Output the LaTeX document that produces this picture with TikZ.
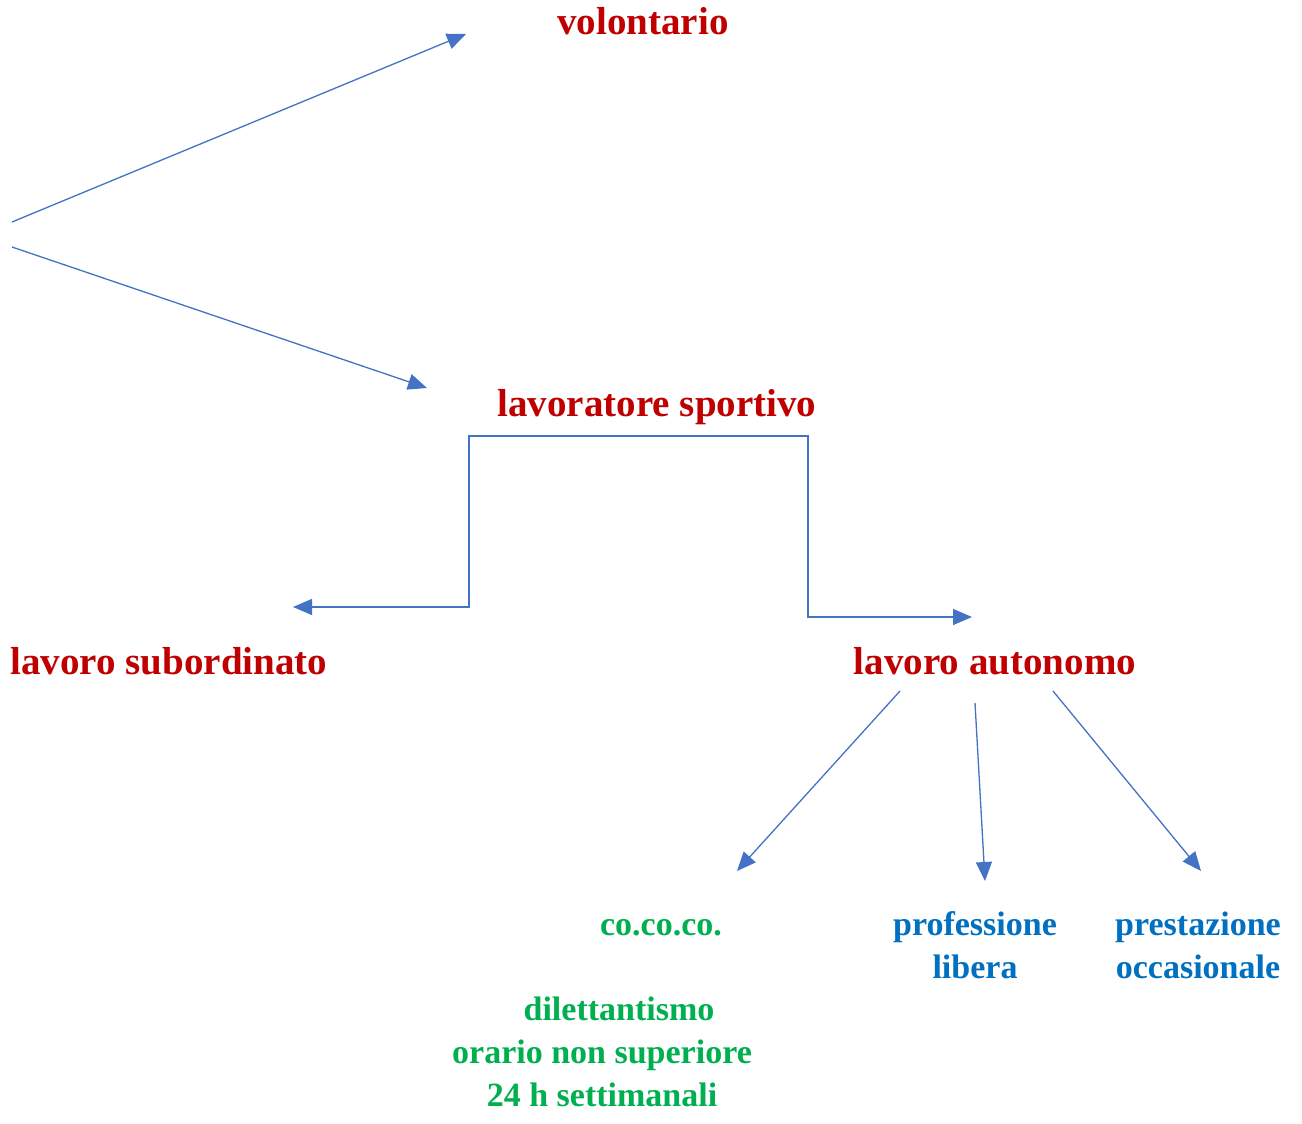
\documentclass[tikz,border=0pt]{standalone}
\usepackage{fontspec}
\setmainfont{Liberation Serif}
\usetikzlibrary{arrows.meta}
\definecolor{dred}{HTML}{C00000}
\definecolor{lblue}{HTML}{4472C4}
\definecolor{tgreen}{HTML}{00B050}
\definecolor{tblue}{HTML}{0070C0}
\tikzset{
  big/.style={inner sep=0pt, anchor=base, text=dred, font=\fontsize{39}{44}\selectfont\bfseries},
  small/.style={inner sep=0pt, anchor=base, align=center, font=\fontsize{34}{43}\selectfont\bfseries},
  conn/.style={draw=lblue, line width=1.3pt, -{Triangle[length=19pt,width=16pt]}}
}
\begin{document}
\begin{tikzpicture}[x=1pt,y=-1pt]
\useasboundingbox[fill=white] (0,0) rectangle (1302,1124);
% nodes
\node[big] (vol) at (643,35) {volontario};
\node[big] (ls) at (657,416) {lavoratore sportivo};
\node[big] (sub) at (169,674) {lavoro subordinato};
\node[big] (aut) at (995,674) {lavoro autonomo};
\node[small, text=tgreen] (coco) at (661,935) {co.co.co.};
\node[small, text=tblue] (prof) at (975,978) {professione\\libera};
\node[small, text=tblue] (prest) at (1198,978) {prestazione\\occasionale};
\node[small, text=tgreen] (dil) at (602,1106) {\hspace*{34pt}dilettantismo\\orario non superiore\\24 h settimanali};
% connector ends
\coordinate (s1) at (12,222);
\coordinate (s2) at (12,247);
\coordinate (tvol) at (466,34);
\coordinate (tls) at (427,388);
\coordinate (lsb) at (545,436);
\coordinate (tsub) at (293,607);
\coordinate (taut) at (972,617);
\coordinate (a1) at (900,691);
\coordinate (a2) at (975,703);
\coordinate (a3) at (1053,691);
\coordinate (tcoco) at (737,871);
\coordinate (tprof) at (985,881);
\coordinate (tprest) at (1201,871);
% connectors
\draw[conn] (s1) -- (tvol);
\draw[conn] (s2) -- (tls);
\draw[conn] (lsb) -- (469,436) -- (469,607) -- (tsub);
\draw[conn] (lsb) -- (808,436) -- (808,617) -- (taut);
\draw[conn] (a1) -- (tcoco);
\draw[conn] (a2) -- (tprof);
\draw[conn] (a3) -- (tprest);
\end{tikzpicture}
\end{document}
